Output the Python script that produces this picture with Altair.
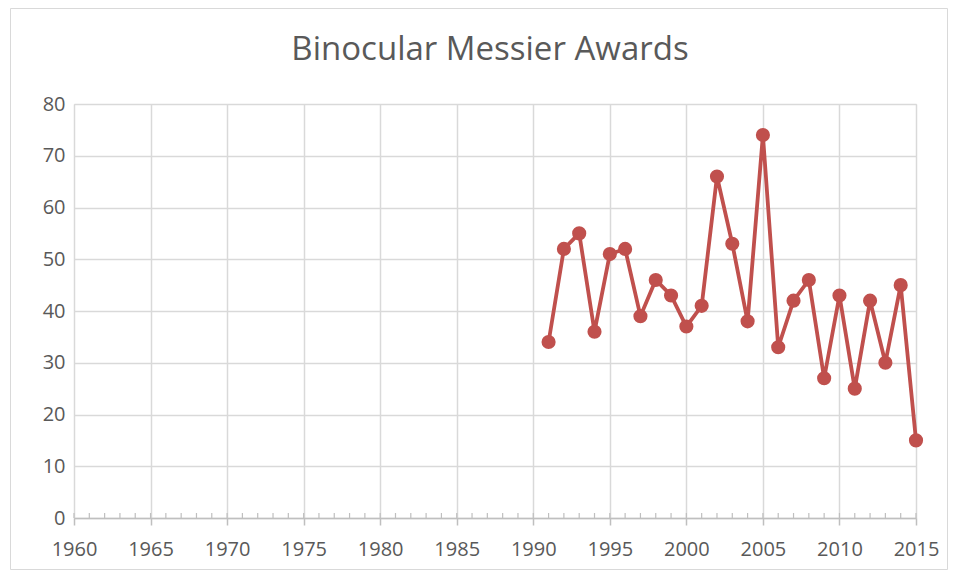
import altair as alt
import pandas as pd

years = [1991, 1992, 1993, 1994, 1995, 1996, 1997, 1998, 1999, 2000, 2001, 2002, 2003,
         2004, 2005, 2006, 2007, 2008, 2009, 2010, 2011, 2012, 2013, 2014, 2015]
awards = [34, 52, 55, 36, 51, 52, 39, 46, 43, 37, 41, 66, 53,
          38, 74, 33, 42, 46, 27, 43, 25, 42, 30, 45, 15]
minor_years = list(range(1960, 2016))
x_ticks = [1960, 1965, 1970, 1975, 1980, 1985, 1990, 1995, 2000, 2005, 2010, 2015]
y_ticks = [0, 10, 20, 30, 40, 50, 60, 70, 80]
title_text = ["Binocular Messier Awards"]

df = pd.DataFrame({"year": years, "awards": awards})
minor = pd.DataFrame({"year": minor_years})

W, H = 842, 414
RED = "#C0504D"
TEXT = "#595959"
GRID = "#D9D9D9"
FONT = "Open Sans"

xscale = alt.Scale(domain=[1960, 2015], nice=False, zero=False)
yscale = alt.Scale(domain=[0, 80], nice=False)

xaxis = alt.Axis(values=x_ticks, format="d", grid=True, gridColor=GRID,
                 gridWidth=1.5, domainColor="#BFBFBF", domainWidth=1.5,
                 tickColor="#BFBFBF", tickSize=7, tickWidth=1.5,
                 labelColor=TEXT, labelFont=FONT, labelFontSize=20,
                 labelPadding=14, labelFlush=False)

border = alt.Chart(pd.DataFrame({"a": [0]})).mark_rect(
    fill=None, stroke="#D9D9D9", strokeWidth=1
).encode(
    x=alt.value(-63.5), x2=alt.value(873.5), y=alt.value(-95.5), y2=alt.value(465.5)
)

title = alt.Chart(pd.DataFrame({"t": title_text})).mark_text(
    font=FONT, fontSize=33, color=TEXT, align="center", baseline="alphabetic"
).encode(text="t:N", x=alt.value(416), y=alt.value(-44))

minor_ticks = alt.Chart(minor).mark_rule(color="#BFBFBF", strokeWidth=1.2).encode(
    x=alt.X("year:Q", scale=xscale, title=None, axis=xaxis),
    y=alt.value(H - 5), y2=alt.value(H),
)

line = alt.Chart(df).mark_line(
    color=RED, strokeWidth=3.8,
    point=alt.OverlayMarkDef(filled=True, color=RED, size=200, opacity=1),
).encode(
    x=alt.X("year:Q", scale=xscale, title=None, axis=xaxis),
    y=alt.Y("awards:Q", scale=yscale, title=None,
            axis=alt.Axis(values=y_ticks, grid=True, gridColor=GRID, gridWidth=1.5,
                          domain=False, ticks=False, labelColor=TEXT, labelFont=FONT,
                          labelFontSize=20, labelPadding=9)),
)

chart = alt.layer(line, minor_ticks, border, title).properties(
    width=W, height=H,
    padding={"left": 66, "top": 96, "right": 32, "bottom": 52},
    autosize=alt.AutoSizeParams(type="none"),
).configure_view(stroke=None).configure(background="white")

chart.save("out.html", embed_options={"renderer": "svg", "actions": False})
